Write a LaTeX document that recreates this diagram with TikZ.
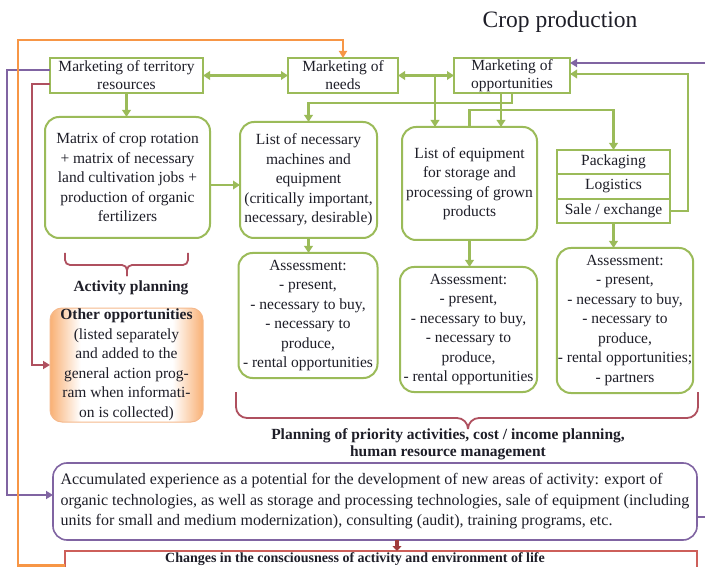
\documentclass[tikz,border=0pt]{standalone}
\usepackage{fontspec}
\setmainfont{Liberation Serif}
\usetikzlibrary{arrows.meta,positioning}
\definecolor{CropGreen}{RGB}{155,187,89}
\definecolor{CropPurple}{RGB}{128,100,162}
\definecolor{CropOrange}{RGB}{247,150,70}
\definecolor{CropPeach}{RGB}{245,185,140}
\definecolor{CropRed}{RGB}{205,95,90}
\definecolor{CropMaroon}{RGB}{175,80,95}
\definecolor{CropArrowRed}{RGB}{160,60,60}
\definecolor{CropInk}{RGB}{30,30,40}
\newcommand\cropfont{\fontsize{15.5}{19.5}\selectfont}
\pgfdeclarehorizontalshading{croppeach}{100bp}{color(0bp)=(CropOrange!75);
    color(25bp)=(CropOrange!75); color(35bp)=(white); color(65bp)=(white);
    color(75bp)=(CropOrange!75); color(100bp)=(CropOrange!75)}
\tikzset{
    crop/diagram/.style={
        font=\cropfont,
        text=CropInk,
        line join=miter,
        every node/.style={inner sep=1pt, outer sep=0pt}
    },
    crop/box/.style={
        draw=CropGreen, line width=2pt, fill=white, align=center,
        inner sep=1pt, font=\fontsize{15.5}{18}\selectfont
    },
    crop/roundbox/.style={crop/box, rounded corners=14pt, font=\cropfont},
    crop/cell/.style={
        crop/box, minimum width=113pt, minimum height=24.3pt, inner sep=0pt
    },
    crop/other/.style={
        draw=CropPeach, line width=1pt, rounded corners=12pt, align=center,
        shading=croppeach
    },
    crop/accum/.style={
        draw=CropPurple, line width=1.6pt, rounded corners=14pt,
        fill=white, align=left, font=\fontsize{16}{20.5}\selectfont
    },
    crop/change/.style={draw=CropRed, line width=1.6pt, fill=white},
    crop/heading/.style={font=\fontsize{23.5}{28}\selectfont},
    crop/label/.style={font=\fontsize{15.5}{17}\selectfont\bfseries, align=center},
    crop/link/.style={
        draw=CropGreen, line width=2.4pt,
        -{Triangle[length=7pt, width=8.5pt]}
    },
    crop/biarrow/.style={
        crop/link,
        {Triangle[length=7pt, width=8.5pt]}-{Triangle[length=7pt, width=8.5pt]}
    },
    crop/feedback/.style={
        draw=CropPurple, line width=2pt,
        -{Triangle[length=7pt, width=8pt]}
    },
    crop/return/.style={
        draw=CropMaroon, line width=2pt,
        -{Triangle[length=7pt, width=8pt]}
    },
    crop/loop/.style={
        draw=CropOrange, line width=2.2pt,
        -{Triangle[length=7pt, width=8pt]}
    },
    crop/down/.style={
        draw=CropArrowRed, line width=3.5pt,
        -{Triangle[length=5pt, width=9pt]}
    },
    crop/brace/.style={draw=CropMaroon, line width=1.8pt, rounded corners=5pt}
}

\begin{document}
\begin{tikzpicture}[crop/diagram, x=1pt, y=-1pt]
    \useasboundingbox (0,0) rectangle (705,567);
    \clip (0,0) rectangle (705,567);
    % title
    \node[crop/heading] (title) at (560,22) {Crop production};
    % marketing row
    \node[crop/box, minimum width=153pt, minimum height=35pt] (terr)
        at (126.5,75.5) {Marketing of territory\\resources};
    \node[crop/box, minimum width=110pt, minimum height=35pt] (needs)
        at (343,75.5) {Marketing of\\needs};
    \node[crop/box, minimum width=116pt, minimum height=35pt] (opps)
        at (512,75.5) {Marketing of\\opportunities};
    % lists
    \node[crop/roundbox, minimum width=165pt, minimum height=121pt] (matrix)
        at (127.5,177.5) {Matrix of crop rotation\\+ matrix of necessary\\land
        cultivation jobs +\\production of organic\\fertilizers};
    \node[crop/roundbox, minimum width=137pt, minimum height=116pt] (mach)
        at (308.5,180) {List of necessary\\machines and\\equipment\\(critically
        important,\\necessary, desirable)};
    \node[crop/roundbox, minimum width=135pt, minimum height=113pt] (equip)
        at (469.5,183.5) {List of equipment\\for storage and\\processing of
        grown\\products};
    \node[crop/cell] (pack) at (613.5,162.15) {Packaging};
    \node[crop/cell, below=0pt of pack] (logi) {Logistics};
    \node[crop/cell, below=0pt of logi] (sale) {Sale / exchange};
    % assessments
    \node[crop/roundbox, minimum width=139pt, minimum height=125pt] (assA)
        at (308,315.5) {Assessment:\\- present,\\- necessary to buy,\\- necessary
        to\\produce,\\- rental opportunities};
    \node[crop/roundbox, minimum width=137pt, minimum height=125pt] (assB)
        at (468.5,329.5) {Assessment:\\- present,\\- necessary to buy,\\- necessary
        to\\produce,\\- rental opportunities};
    \node[crop/roundbox, minimum width=136pt, minimum height=145pt] (assC)
        at (625,320.5) {Assessment:\\- present,\\- necessary to buy,\\- necessary
        to\\produce,\\- rental opportunities;\\- partners};
    \node[crop/other, minimum width=153pt, minimum height=114pt] (other)
        at (126.5,365) {\textbf{Other opportunities}\\(listed separately\\and
        added to the\\general action prog-\\ram when informati-\\on is collected)};
    % braces and their labels
    \draw[crop/brace] (65,253) |- (127,265) -- (127,276);
    \draw[crop/brace] (188,253) |- (127,265) -- (127,276);
    \node[crop/label] (actplan) at (131,288) {Activity planning};
    \draw[crop/brace, rounded corners=11pt] (236,392) |- (468,418) -- (468,429);
    \draw[crop/brace, rounded corners=11pt] (698,392) |- (468,418) -- (468,429);
    \node[crop/label] (prioplan) at (448,444) {Planning of priority activities,
        cost / income planning,\\human resource management};
    % bottom boxes
    \node[crop/accum, minimum width=644pt, minimum height=77pt] (accum)
        at (375,501.5) {Accumulated experience as a potential for the development
        of new areas of activity: export of\\organic technologies, as well as
        storage and processing technologies, sale of equipment (including\\units
        for small and medium modernization), consulting (audit), training
        programs, etc.};
    \node[crop/change, anchor=north, minimum width=632pt, minimum height=24pt]
        (change) at (381,551) {};
    \node[crop/label, font=\fontsize{14}{16}\selectfont\bfseries] (changetext)
        at (355,559.5) {Changes in the consciousness of activity and environment of life};
    % green connectors
    \draw[crop/biarrow] (terr.east) -- (needs.west);
    \draw[crop/biarrow] (needs.east) -- (opps.west);
    \coordinate (fork) at (435,75.5);
    \draw[crop/link] (fork) -- (fork |- equip.north);
    \draw[crop/link] ([xshift=-11pt]opps.south)
        -- ([xshift=-11pt]opps.south |- equip.north);
    \draw[crop/link] (opps.south) -- ++(0,10) -| (mach.north);
    \draw[crop/link] (equip.north) -- ++(0,-17) -| (pack.north);
    \draw[crop/link] (sale.east) -- ++(18,0) |- ([yshift=1.5pt]opps.east);
    \draw[crop/link] (terr.south) -- (terr.south |- matrix.north);
    \draw[crop/link] ([yshift=-7.5pt]matrix.east)
        -- ([yshift=-7.5pt]matrix.east -| mach.west);
    \draw[crop/link] (mach.south) -- (mach.south |- assA.north);
    \draw[crop/link] (equip.south) -- (equip.south |- assB.north);
    \draw[crop/link] (sale.south) -- (sale.south |- assC.north);
    % feedback lines
    \draw[crop/feedback] ([yshift=5pt]terr.west) -- ++(-43,0)
        |- ([yshift=6.5pt]accum.west);
    \draw[crop/feedback] ([yshift=-15.5pt]accum.east) -- ++(20,0)
        |- ([yshift=12.5pt]opps.east);
    \draw[crop/return] ([yshift=-9pt]terr.west) -- ++(-18,0) |- (other.west);
    \coordinate (otop) at (18,40);
    \draw[crop/loop] ([yshift=-2.5pt]change.west) -| (otop) -| (needs.north);
    \draw[crop/down] ([xshift=22pt]accum.south)
        -- ([xshift=22pt]accum.south |- change.north);
\end{tikzpicture}
\end{document}
